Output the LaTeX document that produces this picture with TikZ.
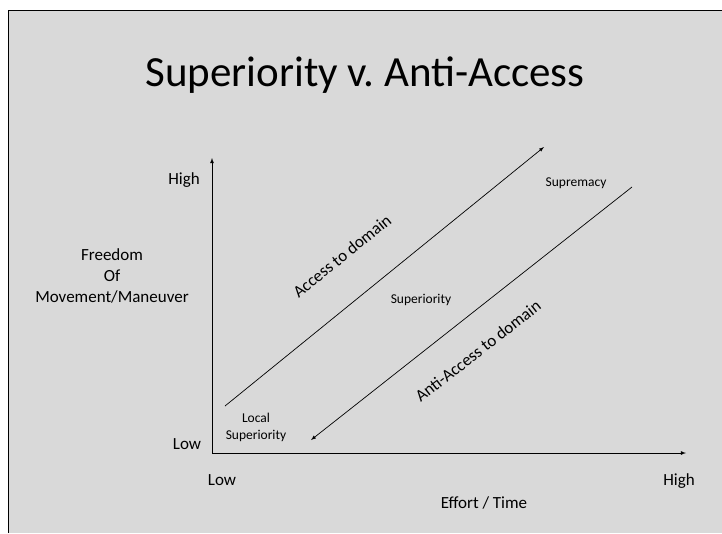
\documentclass[tikz,border=0pt]{standalone}
\usepackage{fontspec}
\setmainfont{Carlito}
\usepackage{tikz}
\usepackage[dvipsnames]{xcolor}
\usetikzlibrary{arrows}

\definecolor{slidegray}{HTML}{D9D9D9}
\frenchspacing

\tikzset{
  biglabel/.style={font=\fontsize{17}{21}\selectfont, align=center},
  axislabel/.style={biglabel, text height=1.6ex, text depth=0.4ex},
  smalllabel/.style={font=\fontsize{13.5}{17}\selectfont, align=center},
}

\begin{document}
\begin{tikzpicture}[x=1pt,y=-1pt,>=latex]

\useasboundingbox (0,0) rectangle (722,533);
\fill[white] (0,0) rectangle (722,533);
\fill[slidegray] (8,10) rectangle (722,533);
\draw[thick] (8,533) -- (8,10) -- (722,10);

\coordinate (origin) at (212,453);
\coordinate (ytop) at (212,158);
\coordinate (xend) at (686,453);
\coordinate (accfrom) at (225,406);
\coordinate (accto) at (544,147);
\coordinate (antifrom) at (632,187);
\coordinate (antito) at (311,440);

\draw[->,line width=0.8pt] (origin) -- (ytop);
\draw[->,line width=0.8pt] (origin) -- (xend);
\draw[->,line width=0.7pt] (accfrom) -- (accto);
\draw[->,line width=0.7pt] (antifrom) -- (antito);

\node[font=\fontsize{43}{46}\selectfont] (title) at (365,75) {Superiority v. Anti-Access};

\node[axislabel] (yhigh) at (184,182) {High};
\node[axislabel] (ylow) at (187,447) {Low};
\node[axislabel] (xlow) at (222,483) {Low};
\node[axislabel] (xhigh) at (679,483) {High};
\node[axislabel] (xlabel) at (484,506) {Effort / Time};
\node[biglabel] (ylabel) at (112,276) {Freedom\\Of\\Movement/Maneuver};

\node[biglabel,rotate=39] (access) at (342,256) {Access to domain};
\node[biglabel,rotate=38] (anti) at (478,351) {Anti-Access to domain};

\node[smalllabel] (sup) at (421,300) {Superiority};
\node[smalllabel] (supr) at (576,183) {Supremacy};
\node[smalllabel] (local) at (256,427) {Local\\Superiority};

\end{tikzpicture}
\end{document}
